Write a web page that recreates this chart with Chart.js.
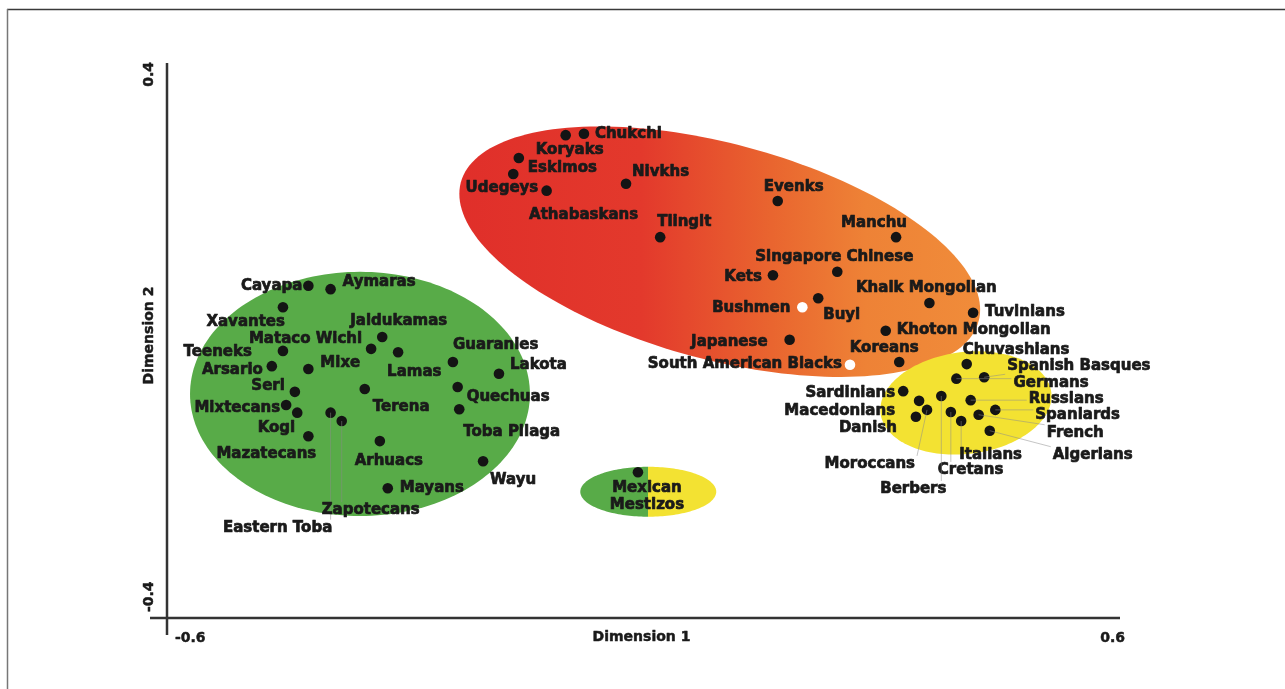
<!DOCTYPE html>
<html>
<head>
<meta charset="utf-8">
<title>Dimension 1 / Dimension 2</title>
<script src="https://cdn.jsdelivr.net/npm/chart.js@4.4.1/dist/chart.umd.min.js"></script>
<style>
  html, body { margin: 0; padding: 0; background: #fff; }
  #wrap { width: 1285px; height: 689px; }
</style>
</head>
<body>
<div id="wrap"><canvas id="mdsChart" width="1285" height="689"></canvas></div>
<script>
// Native American populations
const americaNames = ['Cayapa', 'Aymaras', 'Xavantes', 'Jaidukamas', 'Mataco Wichi', 'Lamas', 'Teeneks',
  'Arsario', 'Mixe', 'Guaranies', 'Lakota', 'Seri', 'Terena', 'Quechuas', 'Toba Pilaga', 'Mixtecans',
  'Kogi', 'Eastern Toba', 'Zapotecans', 'Mazatecans', 'Arhuacs', 'Wayu', 'Mayans'];
const americaDim1 = [-0.422, -0.394, -0.454, -0.329, -0.343, -0.309, -0.454,
  -0.468, -0.422, -0.240, -0.182, -0.439, -0.351, -0.234, -0.232, -0.450,
  -0.436, -0.394, -0.380, -0.422, -0.332, -0.202, -0.322];
const americaDim2 = [0.079, 0.074, 0.048, 0.005, -0.012, -0.017, -0.015,
  -0.037, -0.041, -0.031, -0.048, -0.074, -0.070, -0.067, -0.099, -0.093,
  -0.104, -0.104, -0.116, -0.138, -0.145, -0.174, -0.213];

// Asian / Siberian populations
const asiaNames = ['Chukchi', 'Koryaks', 'Eskimos', 'Udegeys', 'Athabaskans', 'Nivkhs', 'Tlingit',
  'Evenks', 'Manchu', 'Kets', 'Singapore Chinese', 'Khalk Mongolian', 'Buyi', 'Tuvinians',
  'Khoton Mongolian', 'Japanese', 'Koreans'];
const asiaDim1 = [-0.075, -0.098, -0.157, -0.164, -0.122, -0.022, 0.021,
  0.169, 0.318, 0.163, 0.244, 0.360, 0.220, 0.415,
  0.305, 0.184, 0.322];
const asiaDim2 = [0.298, 0.296, 0.263, 0.240, 0.216, 0.226, 0.149,
  0.201, 0.149, 0.094, 0.099, 0.054, 0.061, 0.040,
  0.014, 0.001, -0.031];

// African populations (white dots)
const africaNames = ['Bushmen', 'South American Blacks'];
const africaDim1 = [0.200, 0.260];
const africaDim2 = [0.048, -0.035];

// European / Mediterranean populations
const europeNames = ['Chuvashians', 'Spanish Basques', 'Germans', 'Russians', 'Spaniards', 'French',
  'Algerians', 'Italians', 'Cretans', 'Berbers', 'Moroccans', 'Danish', 'Macedonians', 'Sardinians'];
const europeDim1 = [0.407, 0.429, 0.394, 0.412, 0.443, 0.422,
  0.436, 0.400, 0.387, 0.375, 0.357, 0.343, 0.347, 0.327];
const europeDim2 = [-0.034, -0.053, -0.055, -0.086, -0.100, -0.107,
  -0.130, -0.116, -0.103, -0.080, -0.100, -0.110, -0.087, -0.073];

const mestizoNames = ['Mexican Mestizos'];
const mestizoDim1 = [-0.007];
const mestizoDim2 = [-0.190];

// cluster ellipses in data units: centre and two half-axis vectors
const clusterNames = ['America', 'Asia', 'Europe', 'Mestizo'];
const clusterCx = [-0.357, 0.096, 0.406, 0.006];
const clusterCy = [-0.077, 0.128, -0.090, -0.218];
const clusterAx = [0.214, 0.326, 0.1075, 0.0856];
const clusterAy = [0, -0.100, 0.0151, 0];
const clusterBx = [0, -0.0352, 0.0078, 0];
const clusterBy = [0.176, -0.1503, -0.0729, 0.036];

const xTicks = [-0.6, 0.6];
const yTicks = [-0.4, 0.4];
const xTickLabels = ['-0.6', '0.6'];
const yTickLabels = ['-0.4', '0.4'];

// label placement: [dx, dy, align, leader line, stacked]
const labelPlace = {
  'Cayapa': [-6, 0, 'right'], 'Aymaras': [12, -7, 'left'], 'Xavantes': [2, 15, 'right'],
  'Jaidukamas': [-32, -16, 'left'], 'Mataco Wichi': [-9, -10, 'right'], 'Lamas': [-11, 20, 'left'],
  'Teeneks': [-31, 1, 'right'], 'Arsario': [-9, 4, 'right'], 'Mixe': [12, -6, 'left'],
  'Guaranies': [0, -17, 'left'], 'Lakota': [11, -9, 'left'], 'Seri': [-10, -6, 'right'],
  'Terena': [8, 18, 'left'], 'Quechuas': [9, 10, 'left'], 'Toba Pilaga': [4, 23, 'left'],
  'Mixtecans': [-6, 3, 'right'], 'Kogi': [-2, 15, 'right'], 'Eastern Toba': [-53, 115, 'center', true],
  'Zapotecans': [29, 89, 'center', true], 'Mazatecans': [-42, 18, 'center'], 'Arhuacs': [9, 20, 'center'],
  'Wayu': [7, 19, 'left'], 'Mayans': [12, 0, 'left'],
  'Chukchi': [11, 0, 'left'], 'Koryaks': [4, 15, 'center'], 'Eskimos': [9, 10, 'left'],
  'Udegeys': [25, 14, 'right'], 'Athabaskans': [37, 24, 'center'], 'Nivkhs': [6, -12, 'left'],
  'Tlingit': [-3, -15, 'left'], 'Evenks': [16, -14, 'center'], 'Manchu': [11, -14, 'right'],
  'Kets': [-11, 2, 'right'], 'Singapore Chinese': [-3, -15, 'center'], 'Khalk Mongolian': [-3, -15, 'center'],
  'Buyi': [5, 17, 'left'], 'Tuvinians': [12, -1, 'left'], 'Khoton Mongolian': [11, -1, 'left'],
  'Japanese': [-22, 2, 'right'], 'Koreans': [-15, -14, 'center'],
  'Bushmen': [-12, 1, 'right'], 'South American Blacks': [-8, -1, 'right'],
  'Chuvashians': [-4, -14, 'left'], 'Spanish Basques': [23, -11, 'left', true], 'Germans': [57, 4, 'left', true],
  'Russians': [58, -1, 'left', true], 'Spaniards': [40, 5, 'left', true], 'French': [68, 18, 'left', true],
  'Algerians': [63, 24, 'left', true], 'Italians': [-2, 34, 'left', true], 'Cretans': [-13, 58, 'left', true],
  'Berbers': [-28, 93, 'center', true], 'Moroccans': [-12, 54, 'right', true], 'Danish': [-19, 11, 'right'],
  'Macedonians': [-24, 10, 'right'], 'Sardinians': [-8, 2, 'right'],
  'Mexican Mestizos': [9, 16, 'center', false, true]
};

const LABEL_FONT = 'bold 15px "DejaVu Sans"';
const AXIS_FONT = 'bold 14px "DejaVu Sans"';
const INK = '#1a1a1a';

function toPoints(d1, d2) {
  return d1.map((v, i) => ({ x: v, y: d2[i] }));
}

// heavier text, the original uses a black-weight face
function heavyText(ctx, text, x, y, weight) {
  ctx.lineWidth = weight;
  ctx.strokeStyle = ctx.fillStyle;
  ctx.lineJoin = 'round';
  ctx.strokeText(text, x, y);
  ctx.fillText(text, x, y);
}

// ellipses behind the dots
const ellipsePlugin = {
  id: 'ellipses',
  beforeDatasetsDraw(chart) {
    const ctx = chart.ctx;
    const xs = chart.scales.x, ys = chart.scales.y;
    clusterNames.forEach((name, i) => {
      const pts = [];
      for (let k = 0; k < 180; k++) {
        const t = k / 180 * Math.PI * 2;
        const vx = clusterCx[i] + clusterAx[i] * Math.cos(t) + clusterBx[i] * Math.sin(t);
        const vy = clusterCy[i] + clusterAy[i] * Math.cos(t) + clusterBy[i] * Math.sin(t);
        pts.push([xs.getPixelForValue(vx), ys.getPixelForValue(vy)]);
      }
      const minX = Math.min(...pts.map(p => p[0]));
      const maxX = Math.max(...pts.map(p => p[0]));
      let fill;
      if (name === 'America') {
        fill = '#58ab48';
      } else if (name === 'Europe') {
        fill = '#f3e232';
      } else if (name === 'Asia') {
        fill = ctx.createLinearGradient(minX, 0, maxX, 0);
        fill.addColorStop(0, '#e02f2a');
        fill.addColorStop(0.35, '#e3392c');
        fill.addColorStop(0.6, '#e9652f');
        fill.addColorStop(0.78, '#ee8236');
        fill.addColorStop(1, '#f08c3a');
      } else {
        fill = ctx.createLinearGradient(minX, 0, maxX, 0);
        fill.addColorStop(0, '#58ab48');
        fill.addColorStop(0.5, '#58ab48');
        fill.addColorStop(0.5, '#f3e232');
        fill.addColorStop(1, '#f3e232');
      }
      ctx.save();
      ctx.beginPath();
      pts.forEach((p, k) => k ? ctx.lineTo(p[0], p[1]) : ctx.moveTo(p[0], p[1]));
      ctx.closePath();
      ctx.fillStyle = fill;
      ctx.fill();
      ctx.restore();
    });
  }
};

// axes, tick labels, titles, frame
const axesPlugin = {
  id: 'axes',
  beforeDatasetsDraw(chart) {
    const ctx = chart.ctx;
    const xs = chart.scales.x, ys = chart.scales.y;
    const x0 = xs.getPixelForValue(xTicks[0]), x1 = xs.getPixelForValue(xTicks[1]);
    const yb = ys.getPixelForValue(yTicks[0]), yt = ys.getPixelForValue(yTicks[1]);
    ctx.save();
    // frame of the figure
    ctx.strokeStyle = '#3a3a3a';
    ctx.lineWidth = 1.5;
    ctx.beginPath(); ctx.moveTo(7, 9.5); ctx.lineTo(1285, 9.5); ctx.stroke();
    ctx.strokeStyle = '#777';
    ctx.beginPath(); ctx.moveTo(7.5, 9); ctx.lineTo(7.5, 689); ctx.stroke();

    ctx.strokeStyle = '#333';
    ctx.lineWidth = 2.5;
    ctx.beginPath();
    ctx.moveTo(x0 - 17, yb); ctx.lineTo(x1, yb);
    ctx.moveTo(x0, yt); ctx.lineTo(x0, yb + 17);
    ctx.stroke();

    ctx.fillStyle = INK;
    ctx.font = AXIS_FONT;
    ctx.textBaseline = 'middle';
    ctx.textAlign = 'left';
    heavyText(ctx, xTickLabels[0], x0 + 8, yb + 20, 0.5);
    ctx.textAlign = 'right';
    heavyText(ctx, xTickLabels[1], x1 + 5, yb + 20, 0.5);
    ctx.textAlign = 'center';
    heavyText(ctx, 'Dimension 1', (x0 + x1) / 2 - 2, yb + 19, 0.5);

    ctx.translate(x0 - 18, 0);
    ctx.rotate(-Math.PI / 2);
    ctx.textAlign = 'left';
    heavyText(ctx, yTickLabels[0], -(yb - 6), 0, 0.5);
    ctx.textAlign = 'right';
    heavyText(ctx, yTickLabels[1], -(yt - 1), 0, 0.5);
    ctx.textAlign = 'center';
    heavyText(ctx, 'Dimension 2', -((yt + yb) / 2 - 5), 0, 0.5);
    ctx.restore();
  }
};

// point names with optional leader lines
const labelPlugin = {
  id: 'names',
  afterDatasetsDraw(chart) {
    const ctx = chart.ctx;
    ctx.save();
    ctx.font = LABEL_FONT;
    ctx.textBaseline = 'middle';
    chart.data.datasets.forEach((ds, di) => {
      const meta = chart.getDatasetMeta(di);
      meta.data.forEach((el, i) => {
        const name = ds.names[i];
        const place = labelPlace[name];
        if (!place) return;
        const [dx, dy, align, leader, stacked] = place;
        const tx = el.x + dx, ty = el.y + dy;
        const lines = stacked ? name.split(' ') : [name];
        if (leader) {
          const w = ctx.measureText(name).width;
          const left = align === 'left' ? tx : align === 'right' ? tx - w : tx - w / 2;
          const bx = Math.min(Math.max(el.x, left - 2), left + w + 2);
          const by = Math.min(Math.max(el.y, ty - 8), ty + 8);
          ctx.strokeStyle = 'rgba(140,140,140,0.5)';
          ctx.lineWidth = 1;
          ctx.beginPath();
          ctx.moveTo(el.x, el.y);
          ctx.lineTo(bx, by);
          ctx.stroke();
        }
        ctx.fillStyle = INK;
        ctx.textAlign = align;
        lines.forEach((ln, k) => heavyText(ctx, ln, tx, ty + k * 17, 0.7));
      });
    });
    ctx.restore();
  }
};

function pointSet(label, names, d1, d2, colour) {
  return {
    label: label,
    names: names,
    data: toPoints(d1, d2),
    pointRadius: 5.3,
    pointHoverRadius: 5.3,
    pointBackgroundColor: colour,
    pointBorderWidth: 0,
    showLine: false
  };
}

const ctx = document.getElementById('mdsChart').getContext('2d');
const mdsChart = new Chart(ctx, {
  type: 'scatter',
  data: {
    datasets: [
      pointSet('America', americaNames, americaDim1, americaDim2, '#141414'),
      pointSet('Asia', asiaNames, asiaDim1, asiaDim2, '#141414'),
      pointSet('Africa', africaNames, africaDim1, africaDim2, '#ffffff'),
      pointSet('Europe', europeNames, europeDim1, europeDim2, '#141414'),
      pointSet('Mestizo', mestizoNames, mestizoDim1, mestizoDim2, '#141414')
    ]
  },
  options: {
    responsive: false,
    animation: false,
    events: [],
    layout: { padding: { left: 167, top: 63, right: 165, bottom: 71 } },
    plugins: { legend: { display: false }, tooltip: { enabled: false } },
    scales: {
      x: { type: 'linear', min: -0.6, max: 0.6, display: false },
      y: { type: 'linear', min: -0.4, max: 0.4, display: false }
    }
  },
  plugins: [ellipsePlugin, axesPlugin, labelPlugin]
});
</script>
</body>
</html>
